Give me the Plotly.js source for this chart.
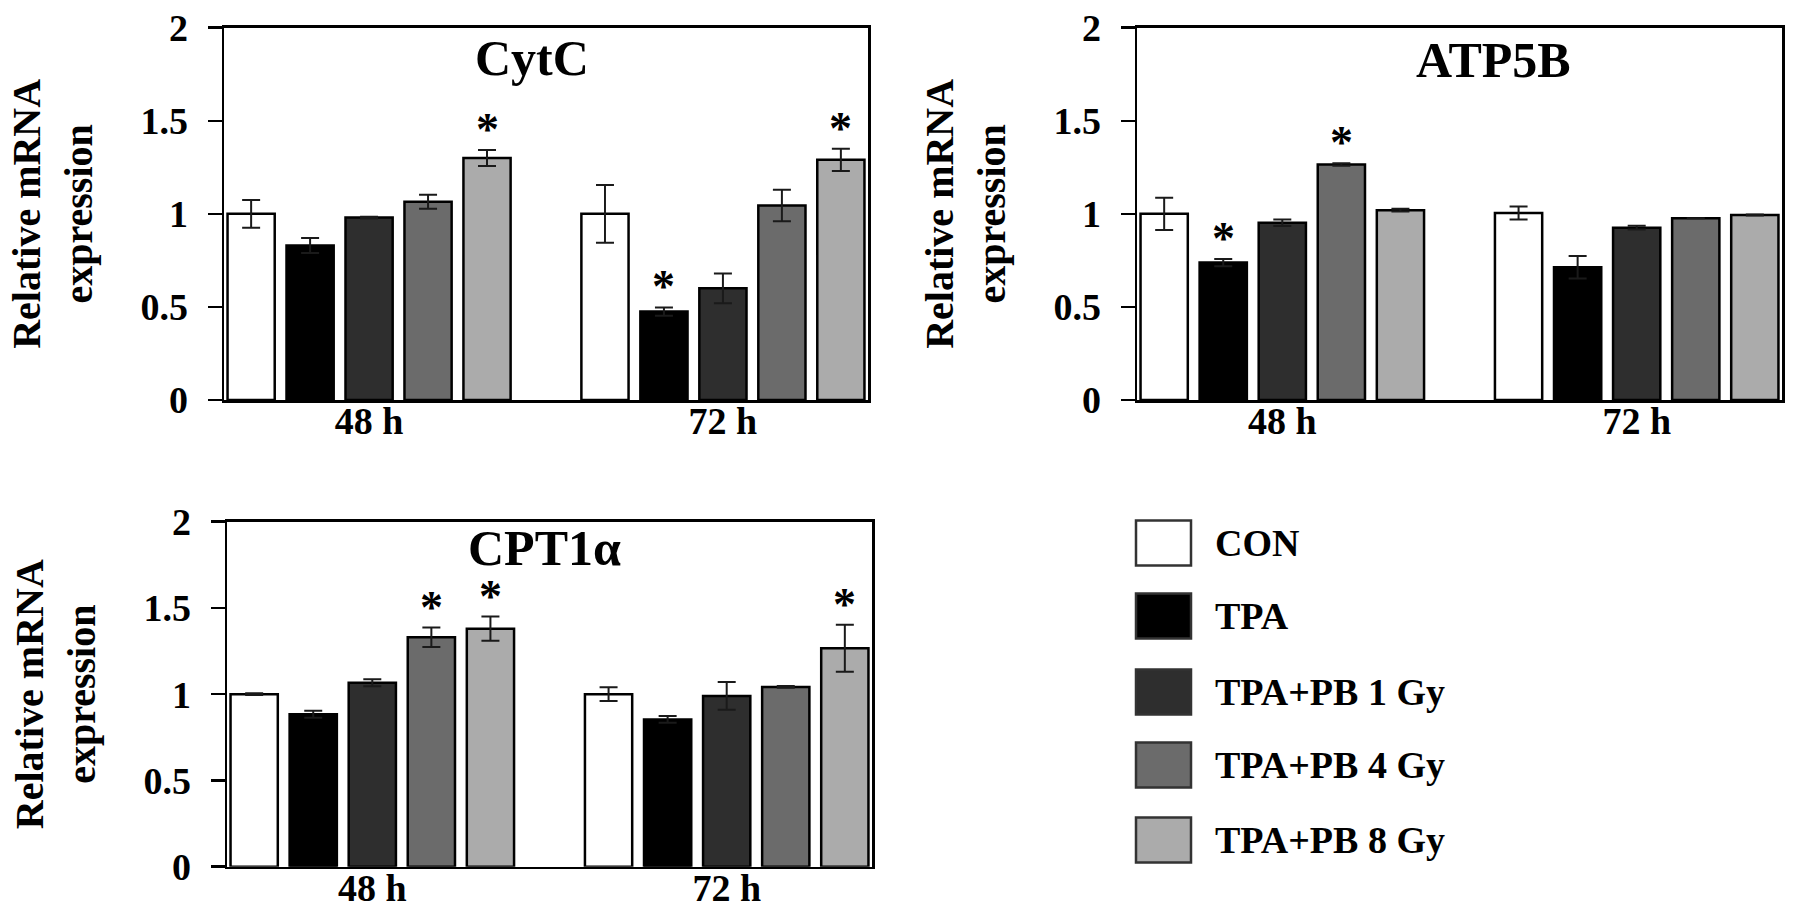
<!DOCTYPE html>
<html><head><meta charset="utf-8">
<script src="https://cdn.plot.ly/plotly-3.0.1.min.js"></script>
<style>html,body{margin:0;padding:0;background:#fff}</style>
</head><body><div id="chart" style="width:1795px;height:920px"></div>
<script>
// ---- data ----
const groups = ['48 h', '72 h'];
const seriesNames = ['CON', 'TPA', 'TPA+PB 1 Gy', 'TPA+PB 4 Gy', 'TPA+PB 8 Gy'];
const seriesColors = ['#ffffff', '#000000', '#2e2e2e', '#6b6b6b', '#ababab'];

const cytcMeans  = [[1.00, 1.00], [0.83, 0.475], [0.98, 0.60], [1.065, 1.045], [1.30, 1.29]];
const cytcErrors = [[0.075, 0.155], [0.04, 0.022], [0.005, 0.08], [0.037, 0.085], [0.043, 0.06]];
const cytcStars  = [[0, 0], [0, 1], [0, 0], [0, 0], [1, 1]];

const atp5bMeans  = [[1.00, 1.005], [0.738, 0.713], [0.952, 0.926], [1.265, 0.976], [1.02, 0.994]];
const atp5bErrors = [[0.087, 0.035], [0.02, 0.06], [0.017, 0.01], [0.007, 0.0], [0.007, 0.003]];
const atp5bStars  = [[0, 0], [1, 0], [0, 0], [1, 0], [0, 0]];

const cpt1aMeans  = [[1.00, 1.00], [0.884, 0.854], [1.066, 0.99], [1.33, 1.042], [1.38, 1.266]];
const cpt1aErrors = [[0.005, 0.04], [0.02, 0.02], [0.02, 0.08], [0.056, 0.005], [0.07, 0.136]];
const cpt1aStars  = [[0, 0], [0, 0], [0, 0], [1, 0], [1, 1]];

const panelTitles = ['CytC', 'ATP5B', 'CPT1α'];
const yTitle = 'Relative mRNA<br>expression';

// ---- build ----
const FONT = 'Liberation Serif, Times New Roman, serif';
const panels = [
  {means: cytcMeans, errs: cytcErrors, stars: cytcStars, xa: 'x', ya: 'y'},
  {means: atp5bMeans, errs: atp5bErrors, stars: atp5bStars, xa: 'x2', ya: 'y2'},
  {means: cpt1aMeans, errs: cpt1aErrors, stars: cpt1aStars, xa: 'x3', ya: 'y3'}
];
const BARGAP = 1/6;
const traces = [];
const annotations = [];
panels.forEach((p, pi) => {
  seriesNames.forEach((name, si) => {
    traces.push({
      type: 'bar', name: name, x: groups, y: p.means[si],
      xaxis: p.xa, yaxis: p.ya, showlegend: false,
      marker: {color: seriesColors[si], line: {color: '#000', width: 2.5}},
      error_y: {type: 'data', array: p.errs[si], visible: true, color: '#1a1a1a', thickness: 2, width: 9}
    });
    p.stars[si].forEach((s, gi) => {
      if (s) {
        const slot = (1 - BARGAP) / seriesNames.length;
        annotations.push({
          xref: p.xa, yref: p.ya, x: gi + (si - 2) * slot, y: p.means[si][gi] + p.errs[si][gi],
          text: '*', showarrow: false, yanchor: 'bottom', yshift: -6, borderpad: 0,
          font: {family: FONT, size: 46, color: '#000', weight: 'bold'}
        });
      }
    });
  });
});

// panel titles
const titlePos = [[0.2964, 0.9375], [0.8318, 0.9348], [0.3036, 0.4045]];
panelTitles.forEach((t, i) => annotations.push({
  xref: 'paper', yref: 'paper', x: titlePos[i][0], y: titlePos[i][1], text: t,
  showarrow: false, xanchor: 'center', yanchor: 'middle', borderpad: 0,
  font: {family: FONT, size: 50, color: '#000', weight: 'bold'}
}));

// legend (custom swatches)
const shapes = [];
const legRowsPx = [543, 616, 692, 765, 840];
seriesNames.forEach((n, i) => {
  const yc = 1 - legRowsPx[i] / 920;
  shapes.push({type: 'rect', xref: 'paper', yref: 'paper',
    x0: 1136 / 1795, x1: 1191 / 1795, y0: yc - 22.5 / 920, y1: yc + 22.5 / 920,
    fillcolor: seriesColors[i], line: {color: '#333', width: 2.5}});
  annotations.push({xref: 'paper', yref: 'paper', x: 1213 / 1795, y: yc, text: n,
    showarrow: false, xanchor: 'left', yanchor: 'middle',
    font: {family: FONT, size: 38, color: '#000', weight: 'bold'}});
});

function yax(domain, anchor) {
  return {domain: domain, anchor: anchor, range: [0, 2], tickvals: [0, 0.5, 1, 1.5, 2],
    ticktext: ['0', '0.5', '1', '1.5', '2'],
    showline: true, linecolor: '#000', linewidth: 2.5, mirror: true,
    ticks: 'outside', ticklen: 14, tickwidth: 2.5, tickcolor: '#000', ticklabelstandoff: 12,
    showgrid: false, zeroline: false, fixedrange: true,
    tickfont: {family: FONT, size: 38, color: '#000', weight: 'bold'},
    title: {text: yTitle, standoff: 36, font: {family: FONT, size: 40, color: '#000', weight: 'bold'}}};
}
function xax(domain, anchor) {
  return {domain: domain, anchor: anchor, type: 'category', range: [-0.41, 1.41],
    showline: true, linecolor: '#000', linewidth: 2.5, mirror: true,
    ticks: '', showgrid: false, zeroline: false, fixedrange: true, ticklabelstandoff: -14,
    tickfont: {family: FONT, size: 38, color: '#000', weight: 'bold'}};
}

const layout = {
  width: 1795, height: 920, margin: {l: 0, r: 0, t: 0, b: 0},
  paper_bgcolor: '#fff', plot_bgcolor: '#fff', showlegend: false,
  barmode: 'group', bargap: BARGAP, bargroupgap: 0.2,
  xaxis: xax([224 / 1795, 868 / 1795], 'y'),
  yaxis: yax([1 - 400 / 920, 1 - 27.7 / 920], 'x'),
  xaxis2: xax([1137 / 1795, 1782 / 1795], 'y2'),
  yaxis2: yax([1 - 400 / 920, 1 - 27.7 / 920], 'x2'),
  xaxis3: xax([227 / 1795, 872 / 1795], 'y3'),
  yaxis3: yax([1 - 866.7 / 920, 1 - 521.7 / 920], 'x3'),
  annotations: annotations, shapes: shapes
};
Plotly.newPlot('chart', traces, layout, {displayModeBar: false, staticPlot: true});
</script></body></html>
